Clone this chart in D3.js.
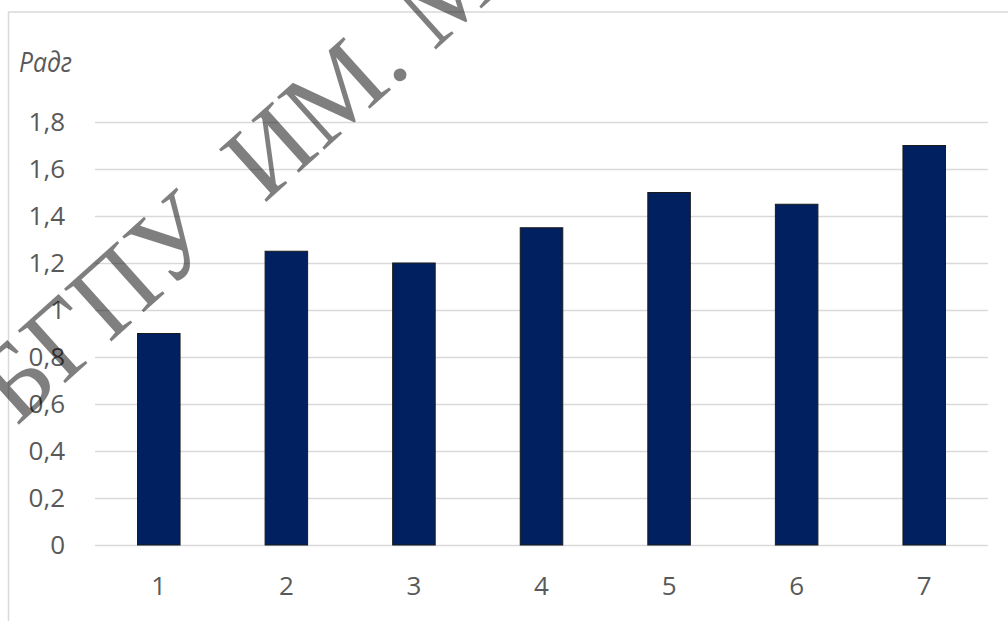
<!DOCTYPE html>
<html>
<head>
<meta charset="utf-8">
<script src="https://cdn.jsdelivr.net/npm/d3@7"></script>
<style>
  body { margin: 0; background: #fff; }
  svg { display: block; }
</style>
</head>
<body>
<div id="chart"></div>
<script>
// data
var categories = ["1", "2", "3", "4", "5", "6", "7"];
var values = [0.9, 1.25, 1.2, 1.35, 1.5, 1.45, 1.7];
var yTicks = [0, 0.2, 0.4, 0.6, 0.8, 1, 1.2, 1.4, 1.6, 1.8];
var yTickLabels = ["0", "0,2", "0,4", "0,6", "0,8", "1", "1,2", "1,4", "1,6", "1,8"];
var yTitle = "Pадг";
var watermark = "БГПУ\u00A0\u00A0ИМ. М. АКМУЛЛЫ";

var svgWidth = 1008;
var svgHeight = 621;

var plot = { left: 95, right: 988, top: 122, bottom: 545 };

var svg = d3.select("#chart")
  .append("svg")
  .attr("width", svgWidth)
  .attr("height", svgHeight);

// chart frame
svg.append("rect")
  .attr("x", 8.5)
  .attr("y", 12)
  .attr("width", 1100)
  .attr("height", 700)
  .attr("fill", "none")
  .attr("stroke", "#d9d9d9")
  .attr("stroke-width", 1.5);

var x = d3.scaleBand()
  .domain(categories)
  .range([plot.left, plot.right])
  .paddingInner(2 / 3)
  .paddingOuter(1 / 3);

var y = d3.scaleLinear()
  .domain([0, 1.8])
  .range([plot.bottom, plot.top]);

// gridlines + y labels
var leftAxis = d3.axisLeft(y)
  .tickValues(yTicks)
  .tickFormat((d, i) => yTickLabels[i])
  .tickSize(-(plot.right - plot.left))
  .tickPadding(30);

var yAxis = svg.append("g")
  .attr("transform", `translate(${plot.left}, 0)`)
  .call(leftAxis);
yAxis.select(".domain").remove();
yAxis.selectAll("line")
  .attr("stroke", "#d9d9d9")
  .attr("stroke-width", 1.5);
yAxis.selectAll("text")
  .attr("fill", "#595959")
  .attr("font-family", "Open Sans")
  .attr("font-size", "26px");

// x labels
var bottomAxis = d3.axisBottom(x).tickSize(0).tickPadding(32);
var xAxis = svg.append("g")
  .attr("transform", `translate(0, ${plot.bottom})`)
  .call(bottomAxis);
xAxis.select(".domain").remove();
xAxis.selectAll("text")
  .attr("fill", "#595959")
  .attr("font-family", "Open Sans")
  .attr("font-size", "26px");

// bars
svg.selectAll("rect.bar")
  .data(values)
  .enter()
  .append("rect")
  .attr("class", "bar")
  .attr("x", (d, i) => x(categories[i]))
  .attr("y", d => y(d))
  .attr("width", x.bandwidth())
  .attr("height", d => y(0) - y(d))
  .attr("fill", "#002060")
  .attr("stroke", "#1a1a1a")
  .attr("stroke-width", 1);

// axis title
svg.append("text")
  .attr("x", 19)
  .attr("y", 72)
  .attr("fill", "#595959")
  .attr("font-family", "Open Sans")
  .attr("font-style", "italic")
  .attr("font-size", "27px")
  .attr("textLength", 53)
  .attr("lengthAdjust", "spacingAndGlyphs")
  .text(yTitle);

// watermark, placed so that "И" lands where it is in the picture
var angle = 42;
var rad = angle * Math.PI / 180;
var wm = svg.append("text")
  .attr("font-family", "Liberation Serif")
  .attr("font-size", "108px")
  .attr("fill", "#000")
  .attr("fill-opacity", 0.5)
  .text(watermark);
var offset = wm.node().getSubStringLength(0, 6);
var tx = 264 - offset * Math.cos(rad);
var ty = 204 + offset * Math.sin(rad);
wm.attr("transform", `translate(${tx}, ${ty}) rotate(${-angle})`);
</script>
</body>
</html>
